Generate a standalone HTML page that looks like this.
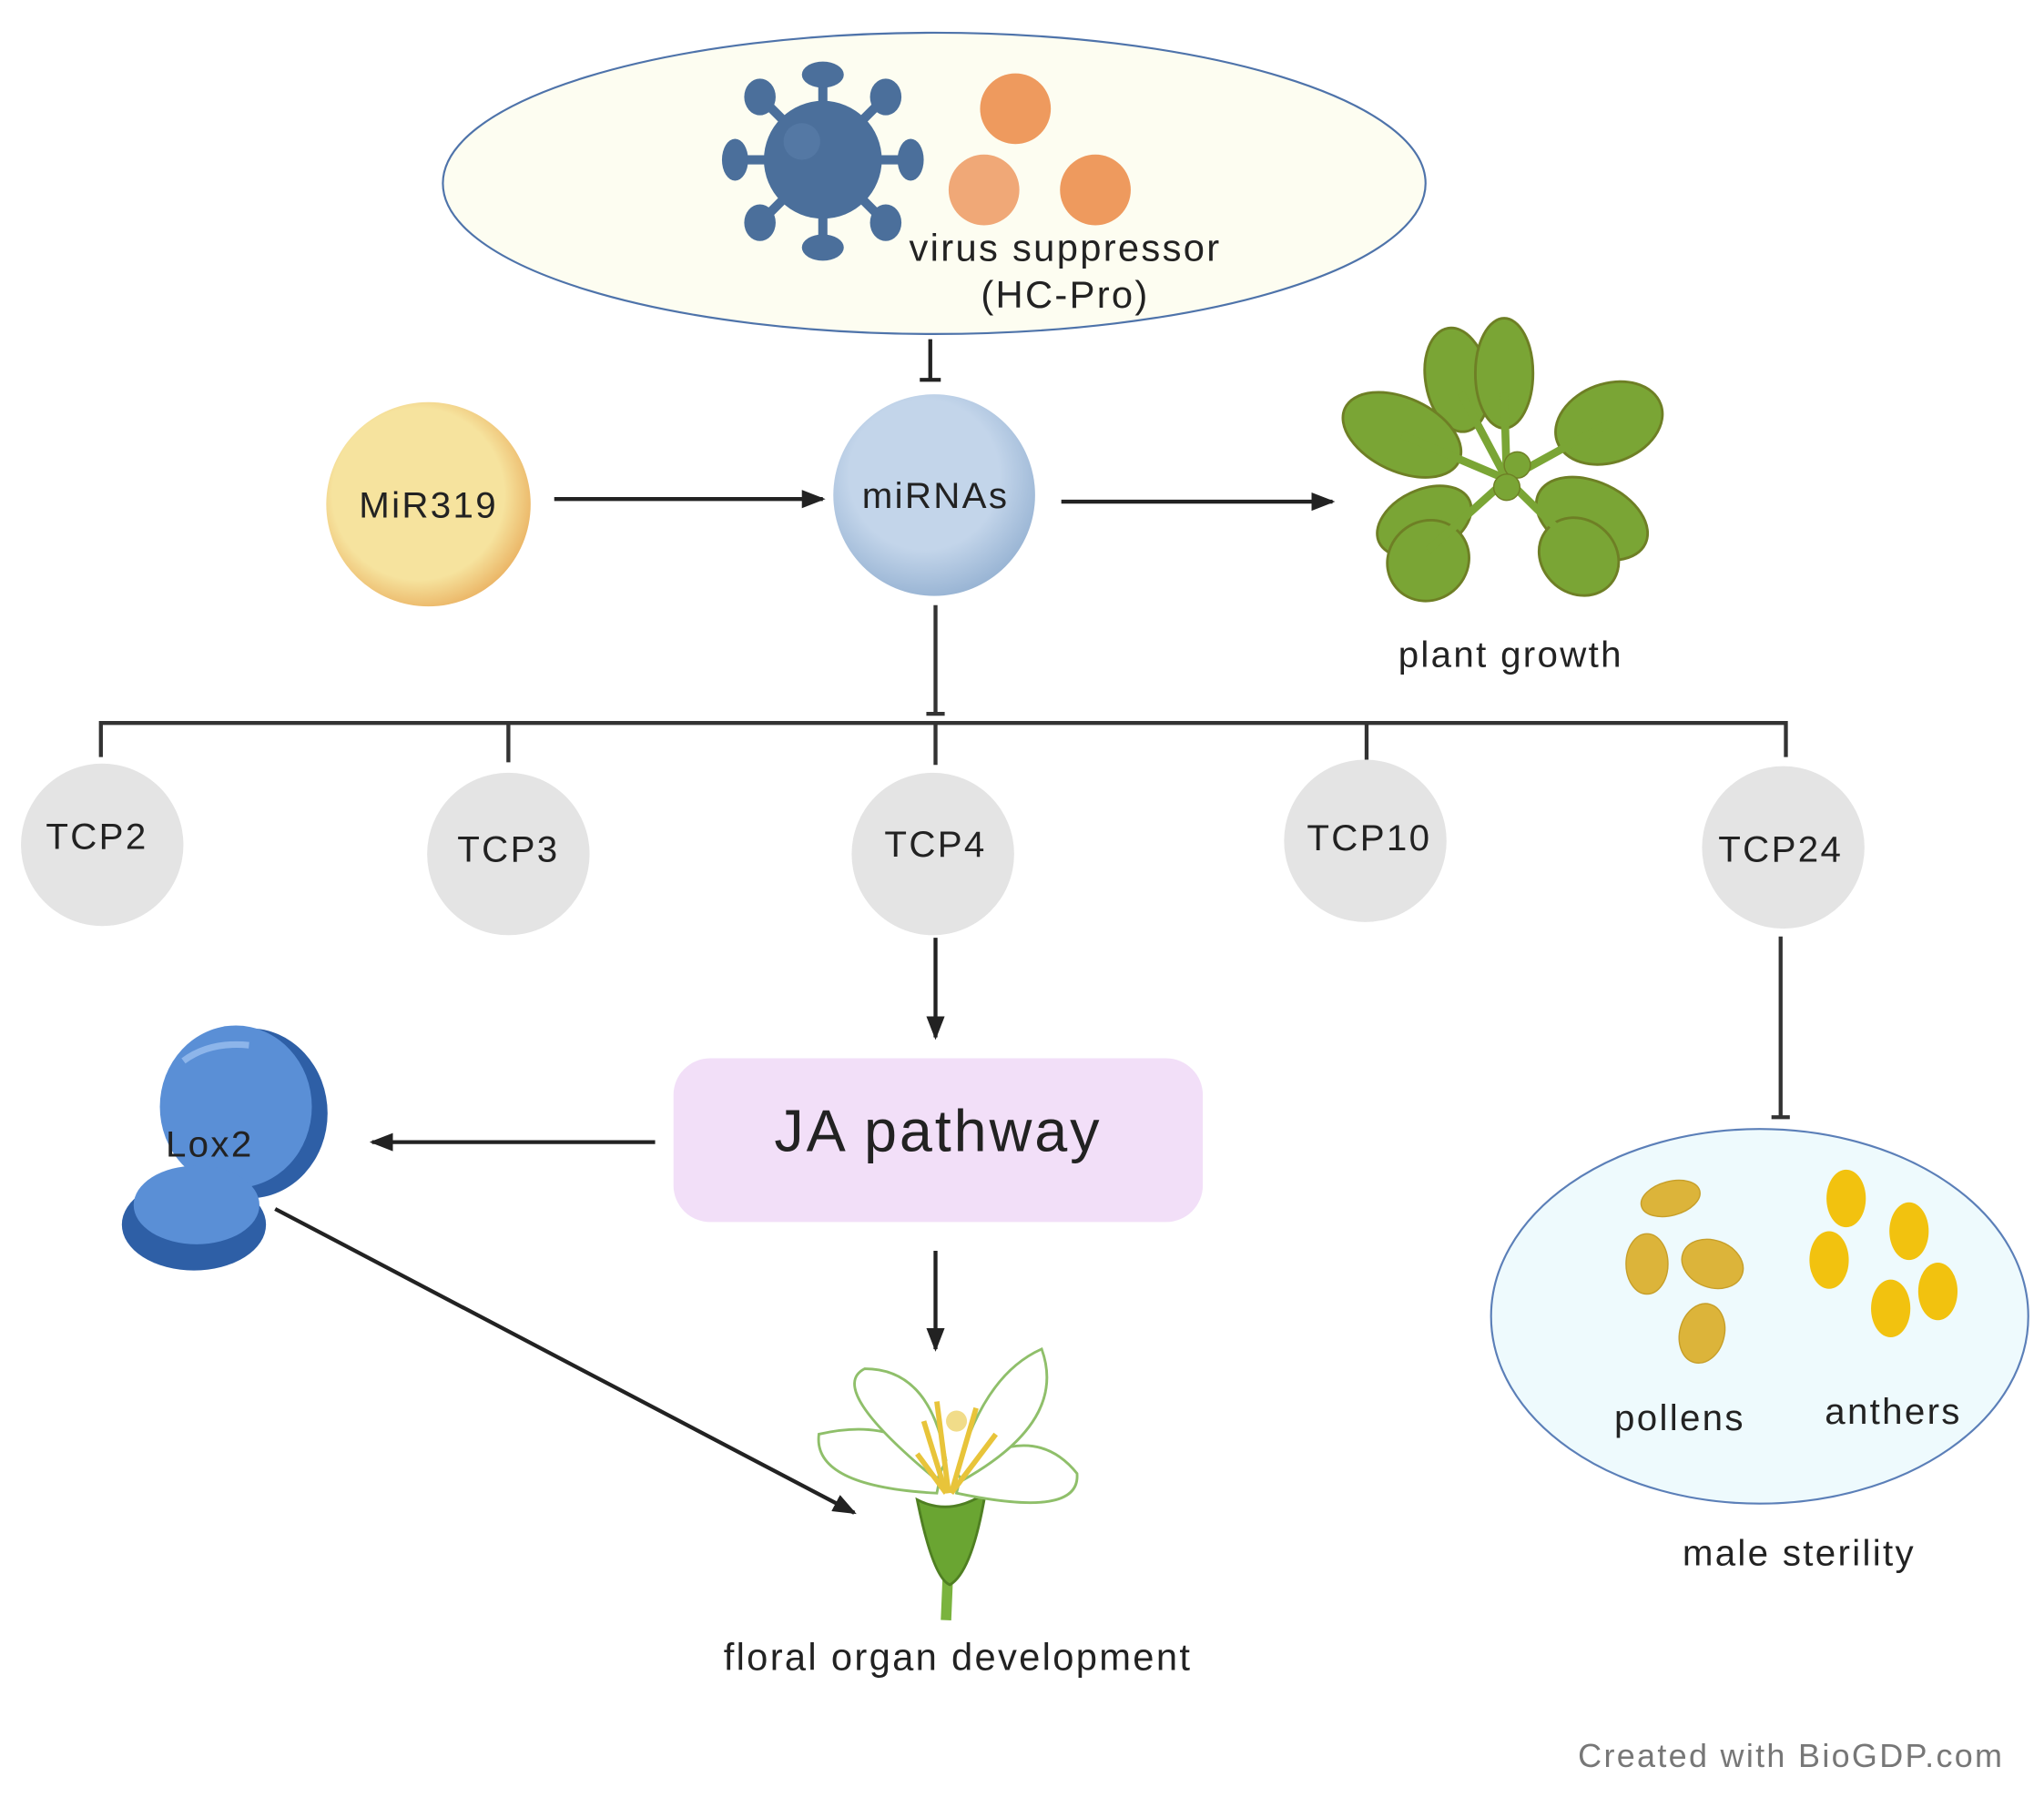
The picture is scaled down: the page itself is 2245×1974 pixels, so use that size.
<!DOCTYPE html>
<html><head><meta charset="utf-8"><style>
html,body{margin:0;padding:0;background:#fff;}
svg{display:block;}
text{font-family:"Liberation Sans",sans-serif;fill:#222;letter-spacing:1.6px;}
</style></head><body>
<svg width="2245" height="1974" viewBox="0 0 1560 1372" preserveAspectRatio="none" xmlns="http://www.w3.org/2000/svg">
<defs>
<marker id="ar2" markerWidth="18" markerHeight="18" refX="16" refY="9" orient="auto" markerUnits="userSpaceOnUse" viewBox="0 0 18 18"><path d="M0,2 L18,9 L0,16 z" fill="#222"/></marker>
<radialGradient id="gy" cx="0.45" cy="0.45" r="0.6"><stop offset="0.7" stop-color="#f6e39e"/><stop offset="1" stop-color="#e9ad5c"/></radialGradient>
<radialGradient id="gb" cx="0.45" cy="0.4" r="0.62"><stop offset="0.6" stop-color="#c3d5ea"/><stop offset="1" stop-color="#97b3d3"/></radialGradient>
</defs>

<ellipse cx="713" cy="140" rx="375" ry="115" fill="#fdfdf1" stroke="#4e73aa" stroke-width="1.5"/>
<g fill="#4b6f9b">
<g stroke="#4b6f9b" stroke-width="7">
<line x1="628" y1="122" x2="628" y2="57"/><line x1="628" y1="122" x2="628" y2="187"/>
<line x1="628" y1="122" x2="563" y2="122"/><line x1="628" y1="122" x2="693" y2="122"/>
<line x1="628" y1="122" x2="674" y2="76"/><line x1="628" y1="122" x2="582" y2="76"/>
<line x1="628" y1="122" x2="674" y2="168"/><line x1="628" y1="122" x2="582" y2="168"/>
</g>
<circle cx="628" cy="122" r="45"/>
<ellipse cx="628" cy="57" rx="16" ry="10"/><ellipse cx="628" cy="189" rx="16" ry="10"/>
<ellipse cx="561" cy="122" rx="10" ry="16"/><ellipse cx="695" cy="122" rx="10" ry="16"/>
<ellipse cx="676" cy="74" rx="12" ry="14"/><ellipse cx="580" cy="74" rx="12" ry="14"/>
<ellipse cx="676" cy="170" rx="12" ry="14"/><ellipse cx="580" cy="170" rx="12" ry="14"/>
</g>
<circle cx="612" cy="108" r="14" fill="#5a7eaa" opacity="0.6"/>
<circle cx="775" cy="83" r="27" fill="#ee9a5e"/>
<circle cx="751" cy="145" r="27" fill="#f0a877"/>
<circle cx="836" cy="145" r="27" fill="#ee9a5e"/>
<text x="813" y="199" font-size="29" text-anchor="middle">virus suppressor</text>
<text x="813" y="235" font-size="29" text-anchor="middle">(HC-Pro)</text>

<line x1="710" y1="259" x2="710" y2="290" stroke="#222" stroke-width="3"/>
<line x1="702" y1="290" x2="718" y2="290" stroke="#222" stroke-width="3"/>

<circle cx="327" cy="385" r="78" fill="url(#gy)"/>
<text x="327" y="395" font-size="28" text-anchor="middle">MiR319</text>
<line x1="423" y1="381" x2="628" y2="381" stroke="#222" stroke-width="3" marker-end="url(#ar2)"/>

<circle cx="713" cy="378" r="77" fill="url(#gb)"/>
<text x="714" y="388" font-size="28" text-anchor="middle">miRNAs</text>
<line x1="810" y1="383" x2="1017" y2="383" stroke="#222" stroke-width="3" marker-end="url(#ar2)"/>

<g fill="#7aa535" stroke="#6e7f25" stroke-width="2">
<ellipse cx="1112" cy="290" rx="24" ry="40" transform="rotate(-10 1112 290)"/>
<ellipse cx="1148" cy="285" rx="22" ry="42"/>
<ellipse cx="1070" cy="332" rx="48" ry="28" transform="rotate(25 1070 332)"/>
<ellipse cx="1228" cy="323" rx="42" ry="30" transform="rotate(-20 1228 323)"/>
<ellipse cx="1087" cy="398" rx="38" ry="24" transform="rotate(-25 1087 398)"/>
<ellipse cx="1090" cy="428" rx="32" ry="30" transform="rotate(-40 1090 428)"/>
<ellipse cx="1215" cy="396" rx="45" ry="28" transform="rotate(25 1215 396)"/>
<ellipse cx="1205" cy="425" rx="32" ry="28" transform="rotate(40 1205 425)"/>
</g>
<g stroke="#7aa535" stroke-width="6">
<line x1="1150" y1="366" x2="1070" y2="332"/><line x1="1150" y1="366" x2="1228" y2="323"/>
<line x1="1150" y1="366" x2="1090" y2="420"/><line x1="1150" y1="366" x2="1205" y2="420"/>
<line x1="1150" y1="366" x2="1148" y2="300"/><line x1="1150" y1="366" x2="1115" y2="300"/>
</g>
<circle cx="1158" cy="355" r="10" fill="#7aa535" stroke="#6e7f25"/>
<circle cx="1150" cy="372" r="10" fill="#7aa535" stroke="#6e7f25"/>
<text x="1153" y="509" font-size="28" text-anchor="middle">plant growth</text>

<g stroke="#333" stroke-width="3" fill="none">
<line x1="714" y1="462" x2="714" y2="545"/>
<line x1="707" y1="545" x2="721" y2="545"/>
<polyline points="77,578 77,552 1363,552 1363,578"/>
<line x1="388" y1="552" x2="388" y2="582"/>
<line x1="714" y1="552" x2="714" y2="584"/>
<line x1="1043" y1="552" x2="1043" y2="580"/>
</g>
<g fill="#e4e4e4">
<circle cx="78" cy="645" r="62"/><circle cx="388" cy="652" r="62"/><circle cx="712" cy="652" r="62"/>
<circle cx="1042" cy="642" r="62"/><circle cx="1361" cy="647" r="62"/>
</g>
<g font-size="28" text-anchor="middle">
<text x="74" y="648">TCP2</text><text x="388" y="658">TCP3</text><text x="714" y="654">TCP4</text>
<text x="1045" y="649">TCP10</text><text x="1359" y="658">TCP24</text>
</g>

<line x1="714" y1="716" x2="714" y2="792" stroke="#222" stroke-width="3" marker-end="url(#ar2)"/>

<rect x="514" y="808" width="404" height="125" rx="28" fill="#f2dff8"/>
<text x="716" y="879" font-size="45" text-anchor="middle" style="letter-spacing:2px">JA pathway</text>
<line x1="500" y1="872" x2="284" y2="872" stroke="#222" stroke-width="3" marker-end="url(#ar2)"/>

<g>
<ellipse cx="190" cy="850" rx="60" ry="65" fill="#2e5fa6"/>
<ellipse cx="180" cy="845" rx="58" ry="62" fill="#5a8fd6"/>
<ellipse cx="148" cy="935" rx="55" ry="35" fill="#2e5fa6"/>
<ellipse cx="150" cy="920" rx="48" ry="30" fill="#5a8fd6"/>
<path d="M140,810 Q160,795 190,798" stroke="#8db5ea" stroke-width="5" fill="none"/>
</g>
<text x="160" y="883" font-size="28" text-anchor="middle">Lox2</text>
<line x1="210" y1="923" x2="652" y2="1155" stroke="#222" stroke-width="3" marker-end="url(#ar2)"/>

<line x1="714" y1="955" x2="714" y2="1030" stroke="#222" stroke-width="3" marker-end="url(#ar2)"/>

<g>
<path d="M725,1165 L722,1237" stroke="#7ab33e" stroke-width="8"/>
<path d="M700,1145 Q712,1205 725,1210 Q742,1200 752,1140 Q725,1158 700,1145z" fill="#6aa532" stroke="#4f7f22" stroke-width="2"/>
<g fill="#fff" stroke="#8fbf6a" stroke-width="2">
<path d="M715,1140 Q620,1135 625,1095 Q690,1080 718,1125z"/>
<path d="M730,1140 Q825,1160 822,1125 Q790,1085 735,1120z"/>
<path d="M715,1130 Q630,1060 660,1045 Q710,1045 722,1115z"/>
<path d="M730,1125 Q750,1050 795,1030 Q815,1085 735,1130z"/>
</g>
<g stroke="#e8c43a" stroke-width="4">
<line x1="722" y1="1140" x2="705" y2="1085"/><line x1="724" y1="1140" x2="715" y2="1070"/>
<line x1="726" y1="1140" x2="745" y2="1075"/><line x1="726" y1="1140" x2="760" y2="1095"/>
<line x1="722" y1="1140" x2="700" y2="1110"/>
</g>
<circle cx="730" cy="1085" r="8" fill="#e8c43a" opacity="0.6"/>
</g>
<text x="731" y="1275" font-size="29" text-anchor="middle">floral organ development</text>

<line x1="1359" y1="715" x2="1359" y2="853" stroke="#333" stroke-width="3"/>
<line x1="1352" y1="853" x2="1366" y2="853" stroke="#333" stroke-width="3"/>

<ellipse cx="1343" cy="1005" rx="205" ry="143" fill="#eefafd" stroke="#5b7fb8" stroke-width="1.5"/>
<g fill="#dcb43a" stroke="#c79f2a" stroke-width="1">
<ellipse cx="1275" cy="915" rx="23" ry="13" transform="rotate(-15 1275 915)"/>
<ellipse cx="1257" cy="965" rx="16" ry="23"/>
<ellipse cx="1307" cy="965" rx="24" ry="18" transform="rotate(20 1307 965)"/>
<ellipse cx="1299" cy="1018" rx="17" ry="23" transform="rotate(15 1299 1018)"/>
</g>
<g fill="#f2c20f">
<ellipse cx="1409" cy="915" rx="15" ry="22"/>
<ellipse cx="1457" cy="940" rx="15" ry="22"/>
<ellipse cx="1396" cy="962" rx="15" ry="22"/>
<ellipse cx="1479" cy="986" rx="15" ry="22"/>
<ellipse cx="1443" cy="999" rx="15" ry="22"/>
</g>
<text x="1282" y="1092" font-size="28" text-anchor="middle">pollens</text>
<text x="1445" y="1087" font-size="28" text-anchor="middle">anthers</text>
<text x="1373" y="1195" font-size="28" text-anchor="middle">male sterility</text>
<text x="1367" y="1349" font-size="25" text-anchor="middle" style="fill:#777">Created with BioGDP.com</text>
</svg>
</body></html>
